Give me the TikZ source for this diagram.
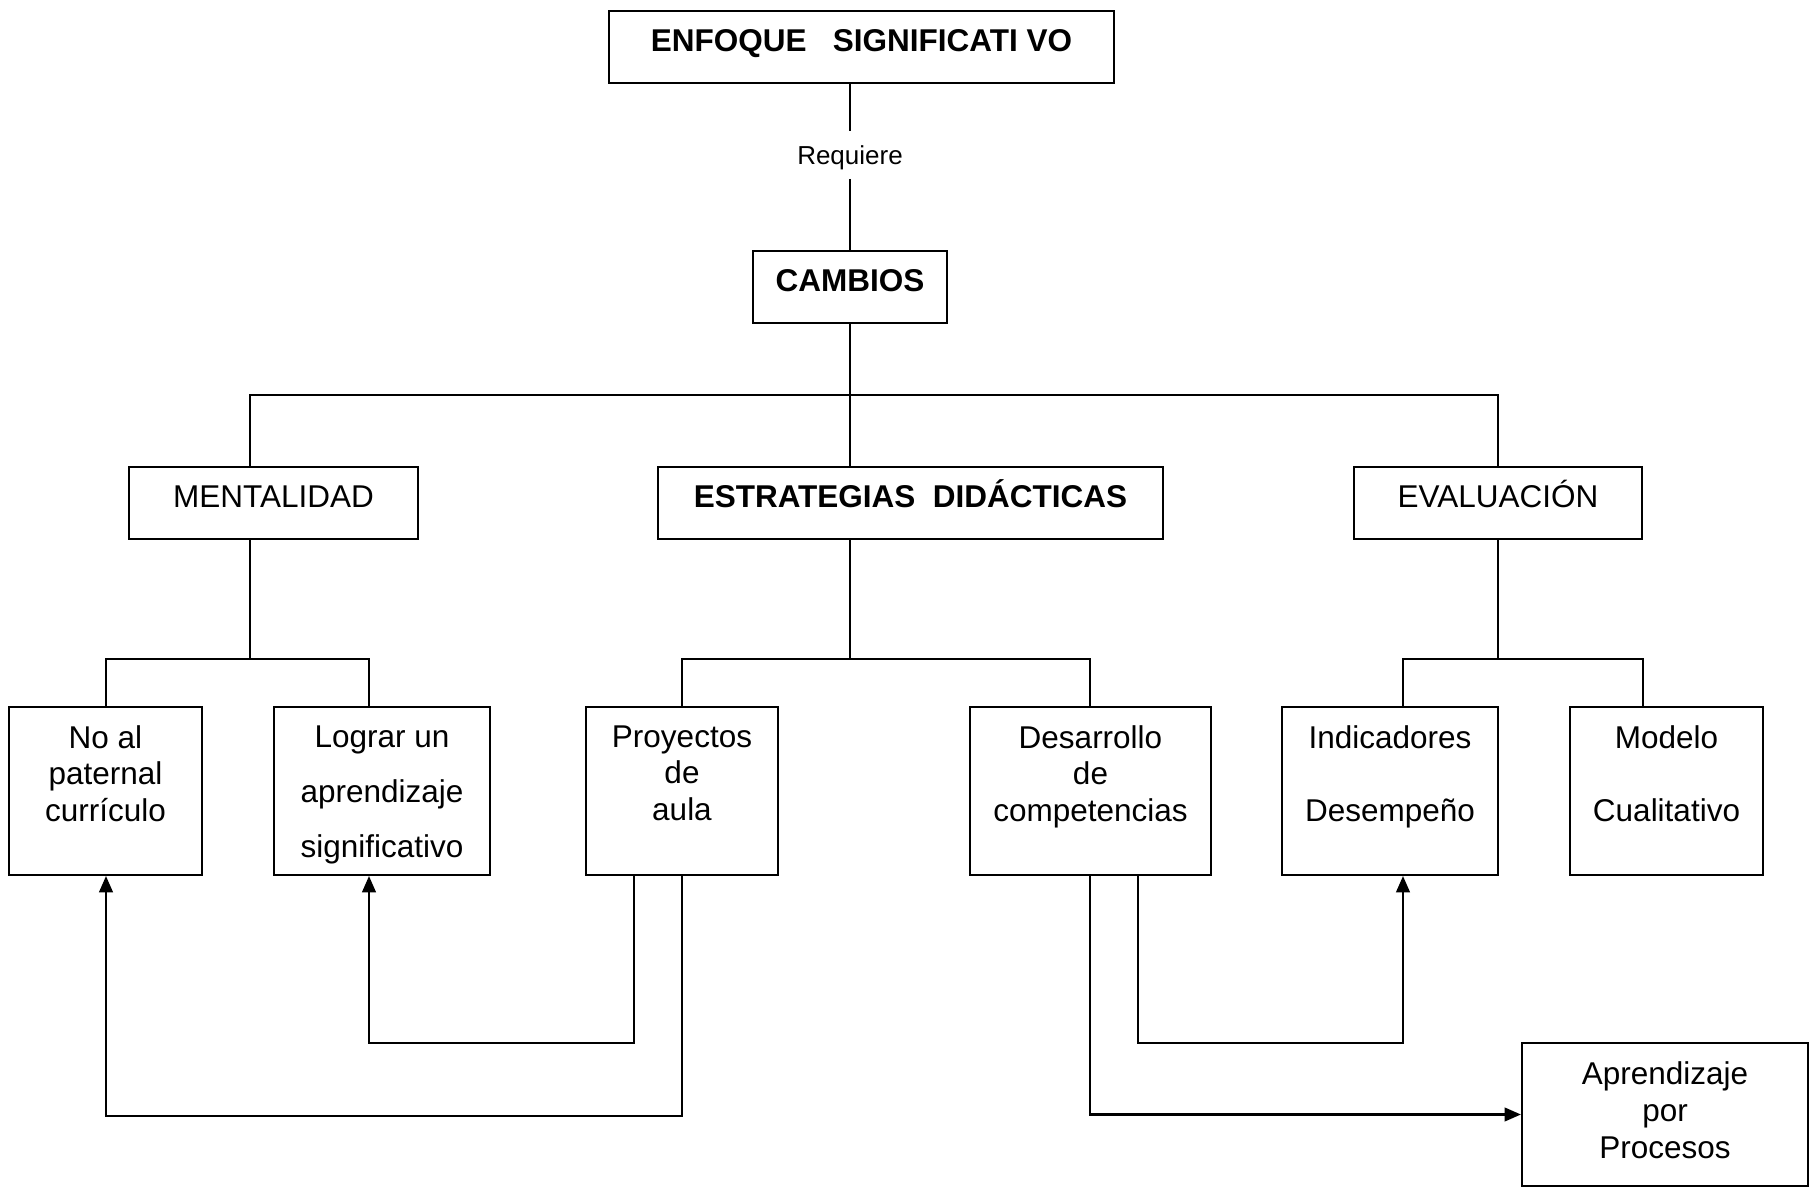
\documentclass[tikz,border=0pt]{standalone}
\usepackage{fontspec}
\setmainfont{Liberation Sans}
\usetikzlibrary{arrows.meta}

\newcommand{\doce}{\fontsize{12}{13.9}\selectfont}

\tikzset{
    box/.style = {draw, inner sep = 0pt},
    head/.style = {box, minimum height = 27.4pt, text height = 9pt, text depth = 5.2pt},
    leaf/.style = {box, minimum height = 64pt},
    txt/.style = {inner sep = 0pt, anchor = north, align = center},
    arr/.style = {-{Triangle[length = 6.2pt, width = 5.2pt]}},
}

\begin{document}
\begin{tikzpicture}[x = 0.381pt, y = -0.381pt, line width = 0.8pt, font = \doce]
    \useasboundingbox (0,0) rectangle (1810,1187);
    % arriba
    \node [head, minimum width = 192.4pt, font = \doce\bfseries] (enfoque) at (861.5,47) {ENFOQUE\ \ \ SIGNIFICATI VO};
    \node [inner xsep = 2pt, inner ysep = 0pt, text height = 12.6pt, text depth = 4.9pt, anchor = base, font = \fontsize{9.9}{12}\selectfont] (requiere) at (850,165) {Requiere};
    \node [head, minimum width = 73.9pt, font = \doce\bfseries] (cambios) at (850,287) {CAMBIOS};
    \node [head, minimum width = 110.1pt] (mental) at (273.5,503) {MENTALIDAD};
    \node [head, minimum width = 192.4pt, font = \doce\bfseries] (estrat) at (910.5,503) {ESTRATEGIAS\ \ DIDÁCTICAS};
    \node [head, minimum width = 109.7pt] (evalua) at (1498,503) {EVALUACIÓN};

    % cajas de abajo
    \node [leaf, minimum width = 73.5pt] (noal) at (105.5,791) {};
    \node [leaf, minimum width = 82.3pt] (lograr) at (382,791) {};
    \node [leaf, minimum width = 73.2pt] (proy) at (682,791) {};
    \node [leaf, minimum width = 91.8pt] (desa) at (1090.5,791) {};
    \node [leaf, minimum width = 82.3pt] (indic) at (1390,791) {};
    \node [leaf, minimum width = 73.5pt] (modelo) at (1666.5,791) {};
    \node [box, minimum width = 109pt, minimum height = 54.5pt] (aprend) at (1665,1114.5) {};

    \node [txt] (noal-t) at ([yshift = -7pt]noal.north) {No al\\paternal\\currículo};
    \node [txt, font = \fontsize{12}{21}\selectfont] (lograr-t) at ([yshift = -7pt]lograr.north) {Lograr un\\aprendizaje\\significativo};
    \node [txt] (proy-t) at ([yshift = -7pt]proy.north) {Proyectos\\de\\aula};
    \node [txt] (desa-t) at ([yshift = -7pt]desa.north) {Desarrollo\\de\\competencias};
    \node [txt, font = \fontsize{12}{27.8}\selectfont] (indic-t) at ([yshift = -7pt]indic.north) {Indicadores\\Desempeño};
    \node [txt, font = \fontsize{12}{27.8}\selectfont] (modelo-t) at ([yshift = -7pt]modelo.north) {Modelo\\Cualitativo};
    \node [txt, font = \fontsize{12}{14.1}\selectfont] (aprend-t) at ([yshift = -7pt]aprend.north) {Aprendizaje\\por\\Procesos};

    % lineas
    \draw (requiere |- enfoque.south) -- (requiere.north);
    \draw (requiere.south) -- (cambios.north);

    \coordinate (t1) at (250,395);
    \coordinate (t2) at (1498,395);
    \draw (cambios.south) -- (cambios |- t1);
    \draw (mental.north -| t1) -- (t1) -- (t2) -- (evalua.north);
    \draw (cambios |- t1) -- (cambios |- estrat.north);

    \coordinate (m1) at (106,659);
    \coordinate (m2) at (369,659);
    \draw (mental.south -| t1) -- (t1 |- m1);
    \draw (noal.north -| m1) -- (m1) -- (m2) -- (lograr.north -| m2);

    \coordinate (e1) at (682,659);
    \coordinate (e2) at (1090,659);
    \draw (cambios |- estrat.south) -- (cambios |- e1);
    \draw (proy.north) -- (e1) -- (e2) -- (desa.north -| e2);

    \coordinate (v1) at (1403,659);
    \coordinate (v2) at (1643,659);
    \draw (evalua.south) -- (evalua |- v1);
    \draw (indic.north -| v1) -- (v1) -- (v2) -- (modelo.north -| v2);

    % flechas
    \coordinate (r1) at (634,1043);
    \coordinate (r2) at (682,1116);
    \coordinate (r3) at (1138,1043);
    \draw [arr] (proy.south -| r1) -- (r1) -| (lograr.south -| m2);
    \draw [arr] (proy.south) -- (r2) -| (noal.south -| m1);
    \draw [arr] (desa.south -| r3) -- (r3) -| (indic.south -| v1);
    \draw [arr] (desa.south -| e2) |- (aprend.west);
\end{tikzpicture}
\end{document}
